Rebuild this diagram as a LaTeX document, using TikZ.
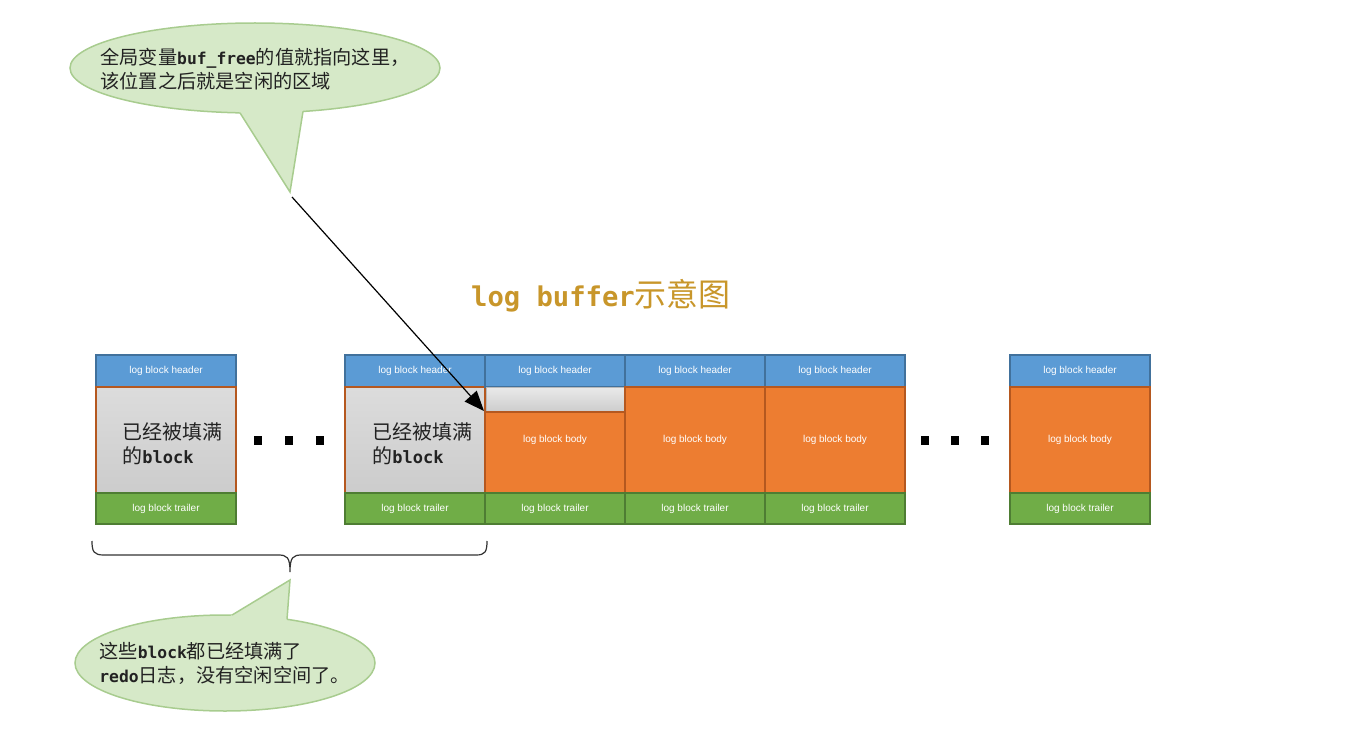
\documentclass[tikz,border=0pt]{standalone}
\usepackage{fontspec}
\setmainfont{Noto Sans CJK SC}
\newfontfamily\lm{DejaVu Sans Mono}[Scale=0.85]
\newfontfamily\lab{Liberation Sans}
\usetikzlibrary{arrows.meta,shapes.geometric}
\definecolor{hdrf}{HTML}{5B9BD5}
\definecolor{hdrb}{HTML}{41719C}
\definecolor{bdyf}{HTML}{ED7D31}
\definecolor{bdyb}{HTML}{B5581F}
\definecolor{trlf}{HTML}{70AD47}
\definecolor{trlb}{HTML}{4E7D33}
\definecolor{gtop}{HTML}{DCDCDC}
\definecolor{gbot}{HTML}{CCCCCC}
\definecolor{cfill}{HTML}{D6E9C8}
\definecolor{cdraw}{HTML}{A8CC8F}
\definecolor{gold}{HTML}{C8962A}
\definecolor{txt}{HTML}{222222}
\newcommand\lb[1]{{\lm\bfseries #1}}
\begin{document}
\begin{tikzpicture}[x=0.5pt,y=-0.5pt,
  sec/.style={draw, line width=1pt, minimum width=70pt, inner sep=0pt, text=white,
              font=\lab\fontsize{5}{6}\selectfont},
  hdr/.style={sec, fill=hdrf, draw=hdrb, minimum height=16pt},
  bdy/.style={sec, fill=bdyf, draw=bdyb, minimum height=53pt},
  gry/.style={sec, top color=gtop, bottom color=gbot, draw=bdyb, minimum height=53pt},
  trl/.style={sec, fill=trlf, draw=trlb, minimum height=15.5pt},
  filltxt/.style={anchor=west, align=left, inner sep=0pt, text=txt,
              font=\fontsize{10}{12}\selectfont},
  bubble/.style={ellipse, fill=cfill, draw=cdraw, line width=0.75pt, inner sep=0pt},
  bubtxt/.style={anchor=west, align=left, inner sep=0pt, text=txt,
              font=\fontsize{9.6}{12}\selectfont},
  dotsq/.style={fill=black}
]
\useasboundingbox (0,0) rectangle (1360,733);

% ---------- top callout ----------
\node[bubble, minimum width=185pt, minimum height=45pt] (c1) at (255,68) {};
\fill[cfill] (234.4,104) -- (304.2,104) -- (290,192) -- cycle;
\coordinate (c1tip) at (290,192);
\draw[cdraw, line width=0.75pt, line join=miter] (240,112.85) -- (c1tip) -- (303,111.5);
\node[bubtxt] (c1t) at (100,69) {全局变量\lb{buf\_free}的值就指向这里，\\该位置之后就是空闲的区域};

% ---------- title ----------
\node[text=gold, font=\fontsize{16}{18}\selectfont, inner sep=0pt] (title) at (601,296)
  {\lb{log buffer}示意图};

% ---------- block 1 ----------
\node[hdr] (h1) at (166,371) {log block header};
\node[gry] (g1) at (166,440) {};
\node[trl] (t1) at (166,508.5) {log block trailer};
\node[filltxt] (f1) at (122,444) {已经被填满\\的\lb{block}};

% ---------- block 2 ----------
\node[hdr] (h2) at (415,371) {log block header};
\node[gry] (g2) at (415,440) {};
\node[trl] (t2) at (415,508.5) {log block trailer};
\node[filltxt] (f2) at (372,444) {已经被填满\\的\lb{block}};

% ---------- block 3 ----------
\node[hdr] (h3) at (555,371) {log block header};
\node[sec, top color=gtop!60, bottom color=gbot, draw=gray!55, line width=0.5pt,
      minimum width=69pt, minimum height=12.5pt] (gp3) at (555,399.5) {};
\node[bdy, minimum height=40.5pt] (b3) at (555,452.5) {};
\node[sec, draw=none] (b3l) at (555,440) {log block body};
\node[trl] (t3) at (555,508.5) {log block trailer};

% ---------- block 4 ----------
\node[hdr] (h4) at (695,371) {log block header};
\node[bdy] (b4) at (695,440) {log block body};
\node[trl] (t4) at (695,508.5) {log block trailer};

% ---------- block 5 ----------
\node[hdr] (h5) at (835,371) {log block header};
\node[bdy] (b5) at (835,440) {log block body};
\node[trl] (t5) at (835,508.5) {log block trailer};

% ---------- block 6 ----------
\node[hdr] (h6) at (1080,371) {log block header};
\node[bdy] (b6) at (1080,440) {log block body};
\node[trl] (t6) at (1080,508.5) {log block trailer};

% ---------- dots ----------
\foreach \x in {258,289,320,925,955,985}
  \fill[dotsq] (\x-4,435.5) rectangle (\x+4,444.5);

% ---------- arrow ----------
\coordinate (astart) at (292,197);
\draw[line width=0.6pt, -{Triangle[length=10pt,width=8pt]}] (astart) -- (b3.north west);

% ---------- brace ----------
\draw[line width=0.6pt, black!80]
  (92,541) .. controls (92,552) and (94,555) .. (104,555) -- (278,555)
  .. controls (287,555) and (290,557) .. (290,572)
  .. controls (290,557) and (293,555) .. (302,555) -- (476,555)
  .. controls (485,555) and (487,552) .. (487,541);

% ---------- bottom callout ----------
\node[bubble, minimum width=150pt, minimum height=48pt] (c2) at (225,663) {};
\fill[cfill] (213.9,626) -- (286.5,626) -- (290,580) -- cycle;
\coordinate (c2tip) at (290,580);
\draw[cdraw, line width=0.75pt, line join=miter] (232,615.05) -- (c2tip) -- (287,619.3);
\node[bubtxt] (c2t) at (99,663) {这些\lb{block}都已经填满了\\\lb{redo}日志，没有空闲空间了。};
\end{tikzpicture}
\end{document}
